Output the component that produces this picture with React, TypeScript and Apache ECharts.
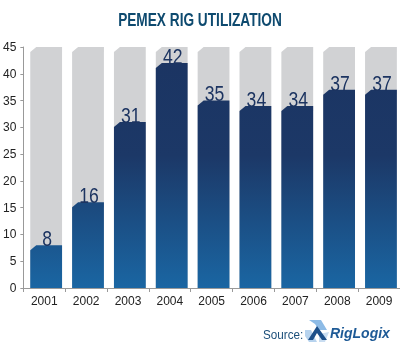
import React, { useEffect, useRef } from "react";
import * as echarts from "echarts";

const years = ["2001", "2002", "2003", "2004", "2005", "2006", "2007", "2008", "2009"];
const rigs = [8, 16, 31, 42, 35, 34, 34, 37, 37];
const yMax = 45;
const yStep = 5;

const sans = "'Liberation Sans', Arial, sans-serif";

function barShape(api: any, value: number, fill: any, withLabel: boolean) {
  const idx = api.value(0);
  const base = api.coord([idx, 0]);
  const topPt = api.coord([idx, value]);
  const bw = api.size([1, 0])[0];
  const left = base[0] - bw / 2 + bw * 0.165;
  const right = left + bw * 0.76;
  const bottom = base[1];
  const top = topPt[1];
  const children: any[] = [
    {
      type: "polygon",
      shape: {
        points: [
          [left, bottom],
          [left, top + 5],
          [left + 6, top],
          [right, top],
          [right, bottom],
        ],
      },
      style: { fill },
    },
  ];
  if (withLabel) {
    children.push({
      type: "text",
      x: (left + right) / 2 + 1,
      y: top + 4,
      scaleX: 0.8,
      style: {
        text: String(value),
        x: 0,
        y: 0,
        align: "center",
        verticalAlign: "bottom",
        fill: "#1c3461",
        font: `22px ${sans}`,
      },
    });
  }
  return { type: "group", children };
}

export default function App() {
  const ref = useRef<HTMLDivElement>(null);
  useEffect(() => {
    if (!ref.current) return;
    const chart = echarts.init(ref.current, null, { renderer: "svg" });
    const grad = new echarts.graphic.LinearGradient(
      0, 47, 0, 288,
      [
        { offset: 0, color: "#1b3462" },
        { offset: 0.45, color: "#1c3867" },
        { offset: 1, color: "#1a66a3" },
      ],
      true
    );
    chart.setOption({
      animation: false,
      grid: { left: 22, right: -1, top: 47, bottom: 68 },
      xAxis: {
        type: "category",
        data: years,
        boundaryGap: true,
        axisLine: { lineStyle: { color: "#999999", width: 1 } },
        axisTick: { show: true, length: 4, lineStyle: { color: "#999999" } },
        axisLabel: { color: "#222222", fontSize: 12, fontFamily: sans, margin: 7 },
      },
      yAxis: {
        type: "value",
        min: 0,
        max: yMax,
        interval: yStep,
        splitLine: { show: false },
        axisLine: { show: true, lineStyle: { color: "#999999", width: 1 } },
        axisTick: { show: true, length: 3, lineStyle: { color: "#999999" } },
        axisLabel: { color: "#222222", fontSize: 12, fontFamily: sans, margin: 7 },
      },
      series: [
        {
          type: "custom",
          data: years.map((_, i) => [i, yMax]),
          renderItem: (_p: any, api: any) => barShape(api, yMax, "#d1d2d4", false),
          z: 1,
          silent: true,
        },
        {
          type: "custom",
          data: rigs.map((v, i) => [i, v]),
          renderItem: (_p: any, api: any) => barShape(api, api.value(1), grad, true),
          z: 2,
        },
      ],
      graphic: [
        {
          type: "text",
          x: 200,
          y: 20,
          scaleX: 0.76,
          style: {
            text: "PEMEX RIG UTILIZATION",
            x: 0,
            y: 0,
            align: "center",
            verticalAlign: "middle",
            fill: "#0e4a6f",
            font: `bold 18px ${sans}`,
          },
        },
        {
          type: "text",
          x: 263,
          y: 335,
          scaleX: 0.9,
          style: {
            text: "Source:",
            x: 0,
            y: 0,
            verticalAlign: "middle",
            fill: "#1c4f7a",
            font: `13px ${sans}`,
          },
        },
        {
          type: "group",
          x: 305,
          y: 320,
          children: [
            { type: "polygon", shape: { points: [[4, 0], [16, 0], [22, 10], [14, 10], [10, 4]] }, style: { fill: "#8dbbe6" } },
            { type: "polygon", shape: { points: [[0, 10], [6, 10], [12, 22], [4, 22], [0, 16]] }, style: { fill: "#b7d3ee" } },
            { type: "polygon", shape: { points: [[14, 14], [24, 12], [20, 22], [14, 22]] }, style: { fill: "#c9ddf1" } },
            { type: "polygon", shape: { points: [[3, 20], [12, 6], [22, 20], [17, 20], [12, 13], [8, 20]] }, style: { fill: "#1c4f8a" } },
          ],
        },
        {
          type: "text",
          x: 330,
          y: 333,
          style: {
            text: "RigLogix",
            x: 0,
            y: 0,
            verticalAlign: "middle",
            fill: "#1e5a96",
            font: `italic bold 14px ${sans}`,
          },
        },
      ],
    });
    return () => chart.dispose();
  }, []);
  return <div ref={ref} style={{ width: 400, height: 356, position: "fixed", left: 0, top: 0 }} />;
}
